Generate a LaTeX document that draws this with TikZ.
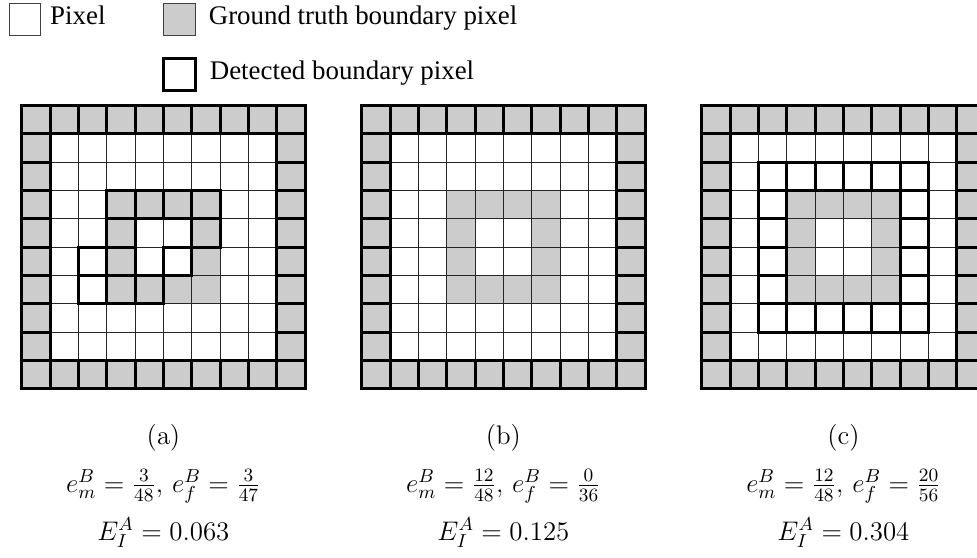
\RequirePackage{fix-cm}
\documentclass[tikz,border=0pt]{standalone}
\usepackage{amsmath}
\usepackage[no-math]{fontspec}
\setmainfont{Liberation Serif}
\usepackage{tikz}
\usetikzlibrary{positioning, calc}
\definecolor{gtgray}{RGB}{204,204,204}
\newcommand{\figfont}{\fontsize{13.5}{16.2}\selectfont}
\tikzset{
  legbox/.style={rectangle, draw=black!75, line width=0.5pt, fill=white,
    minimum size=0.56cm, inner sep=0pt},
  legtext/.style={inner sep=0pt, text height=0.7em, text depth=0.2em, font=\figfont},
  cellline/.style={line width=0.5pt, black!85},
  detline/.style={line width=1.5pt, black, line join=miter},
  captext/.style={anchor=base, inner sep=0pt, font=\figfont},
}
\begin{document}
\begin{tikzpicture}[node distance=0.22cm]
\clip (0,0) rectangle (17.24,-9.83);

% Legend
\node[legbox] (pixbox) at (0.44,-0.34) {};
\node[legtext, right=0.15cm of pixbox] (pixtext) {Pixel};
\node[legbox, fill=gtgray] (gtbox) at (3.17,-0.34) {};
\node[legtext, right=of gtbox] (gttext) {Ground truth boundary pixel};
\node[legbox, line width=1.5pt, draw=black, below=0.38cm of gtbox] (detbox) {};
\node[legtext, right=of detbox] (dettext) {Detected boundary pixel};

% Grid corners
\coordinate (ga) at (0.383,-1.862);
\coordinate (gb) at (6.383,-1.862);
\coordinate (gc) at (12.383,-1.862);

% Ground truth and outer detected ring, same for all three
\foreach \g in {ga,gb,gc} {
  \begin{scope}[shift={(\g)}]
    \fill[gtgray] (0,0) rectangle (5,-5);
    \fill[white] (0.5,-0.5) rectangle (4.5,-4.5);
    \fill[gtgray] (1.5,-1.5) rectangle (3.5,-3.5);
    \fill[white] (2,-2) rectangle (3,-3);
    \foreach \k in {0,...,10} {
      \draw[cellline] (\k*0.5,0) -- (\k*0.5,-5);
      \draw[cellline] (0,-\k*0.5) -- (5,-\k*0.5);
    }
    \foreach \k in {0,...,9}
      \foreach \r/\c in {0/\k, 9/\k, \k/0, \k/9}
        \draw[detline] (\c*0.5,-\r*0.5) rectangle ++(0.5,-0.5);
  \end{scope}
}

% Detected pixels inside (a)
\begin{scope}[shift={(ga)}]
  \foreach \r/\c in {3/3,3/4,3/5,3/6,4/3,4/6,5/2,5/3,5/5,6/2,6/3,6/4}
    \draw[detline] (\c*0.5,-\r*0.5) rectangle ++(0.5,-0.5);
\end{scope}

% Detected ring inside (c)
\begin{scope}[shift={(gc)}]
  \foreach \k in {2,...,7}
    \foreach \r/\c in {2/\k, 7/\k, \k/2, \k/7}
      \draw[detline] (\c*0.5,-\r*0.5) rectangle ++(0.5,-0.5);
\end{scope}

% Captions
\node[captext] (capa) at ($(ga)+(2.5,-5.98)$) {$(\mathrm{a})$};
\node[captext] (erra) at ($(ga)+(2.5,-6.82)$) {$e_m^B=\frac{3}{48},\, e_f^B=\frac{3}{47}$};
\node[captext] (inda) at ($(ga)+(2.5,-7.67)$) {$E_I^A=0.063$};

\node[captext] (capb) at ($(gb)+(2.5,-5.98)$) {$(\mathrm{b})$};
\node[captext] (errb) at ($(gb)+(2.5,-6.82)$) {$e_m^B=\frac{12}{48},\, e_f^B=\frac{0}{36}$};
\node[captext] (indb) at ($(gb)+(2.5,-7.67)$) {$E_I^A=0.125$};

\node[captext] (capc) at ($(gc)+(2.5,-5.98)$) {$(\mathrm{c})$};
\node[captext] (errc) at ($(gc)+(2.5,-6.82)$) {$e_m^B=\frac{12}{48},\, e_f^B=\frac{20}{56}$};
\node[captext] (indc) at ($(gc)+(2.5,-7.67)$) {$E_I^A=0.304$};

\end{tikzpicture}
\end{document}
